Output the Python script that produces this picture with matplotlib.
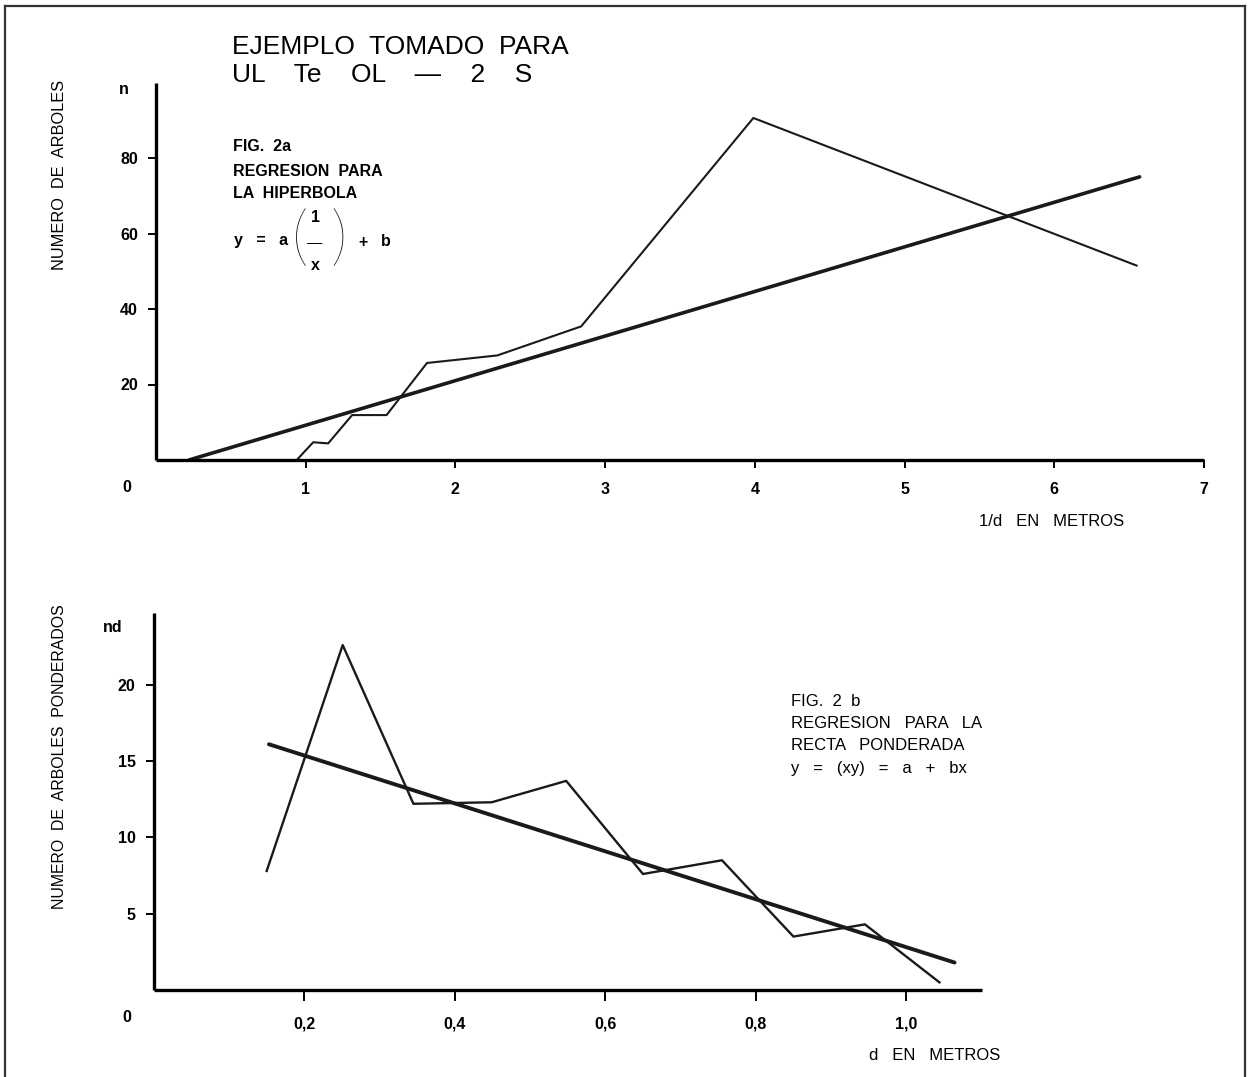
import matplotlib
matplotlib.use("Agg")
import matplotlib.pyplot as plt
from matplotlib.lines import Line2D

plt.rcParams['font.family'] = ['Liberation Sans', 'DejaVu Sans']

# Fig. 2a: number of trees against 1/d
top_x = [0.94, 1.05, 1.15, 1.31, 1.54, 1.81, 2.28, 2.84, 3.99, 6.55]
top_y = [0, 4.7, 4.4, 11.9, 11.9, 25.7, 27.7, 35.4, 90.6, 51.5]
top_fit_x = [0.22, 6.57]
top_fit_y = [0, 75.0]
top_xticks = [1, 2, 3, 4, 5, 6, 7]
top_yticks = [20, 40, 60, 80]

# Fig. 2b: weighted number of trees against d
bot_x = [0.150, 0.251, 0.345, 0.449, 0.548, 0.650, 0.755, 0.850, 0.945, 1.044]
bot_y = [7.8, 22.6, 12.2, 12.3, 13.7, 7.6, 8.5, 3.5, 4.3, 0.5]
bot_fit_x = [0.153, 1.064]
bot_fit_y = [16.1, 1.8]
bot_xticks = [0.2, 0.4, 0.6, 0.8, 1.0]
bot_xlabels = ['0,2', '0,4', '0,6', '0,8', '1,0']
bot_yticks = [5, 10, 15, 20]

W, H = 1252, 1077
fig = plt.figure(figsize=(W / 100, H / 100), dpi=100)


def px(x, y):
    return x / W, 1 - y / H


def label(x, y, s, **kw):
    kw.setdefault('ha', 'left')
    kw.setdefault('va', 'center')
    fig.text(*px(x, y), s, **kw)


def style(ax):
    for side in ('top', 'right'):
        ax.spines[side].set_visible(False)
    for side in ('left', 'bottom'):
        ax.spines[side].set_linewidth(2.4)
        ax.spines[side].set_capstyle('butt')
    ax.tick_params(direction='out', length=6, width=1.4, pad=7,
                   labelsize=11.5)
    for t in ax.get_xticklabels() + ax.get_yticklabels():
        t.set_fontweight('bold')


# ---- top chart ----
ax1 = fig.add_axes([156 / W, 1 - 460 / H, 1048 / W, 377.5 / H])
ax1.plot(top_x, top_y, color='#1a1a1a', lw=1.5, clip_on=False)
ax1.plot(top_fit_x, top_fit_y, color='#1a1a1a', lw=2.6, clip_on=False,
         solid_capstyle='round')
ax1.set_xlim(0, 7)
ax1.set_ylim(0, 100)
ax1.set_xticks(top_xticks)
ax1.set_yticks(top_yticks)
style(ax1)
ax1.tick_params(axis='x', pad=10)

# ---- bottom chart ----
ax2 = fig.add_axes([153.8 / W, 1 - 990 / H, 827.8 / W, 377 / H])
ax2.plot(bot_x, bot_y, color='#1a1a1a', lw=1.7, clip_on=False)
ax2.plot(bot_fit_x, bot_fit_y, color='#1a1a1a', lw=2.8, clip_on=False,
         solid_capstyle='round')
ax2.set_xlim(0, 1.1)
ax2.set_ylim(0, 24.7)
ax2.set_xticks(bot_xticks)
ax2.set_xticklabels(bot_xlabels)
ax2.set_yticks(bot_yticks)
style(ax2)
ax2.tick_params(axis='x', length=8, pad=11)

# ---- texts ----
label(232, 47, 'EJEMPLO  TOMADO  PARA', fontsize=19)
label(232, 75, 'UL    Te    OL    —    2    S', fontsize=19)

label(127, 487, '0', fontsize=11.5, fontweight='bold', ha='center')
label(124, 90, 'n', fontsize=11.5, fontweight='bold', ha='center')
label(60, 175, 'NUMERO  DE  ARBOLES', fontsize=11.8, rotation=90,
      ha='center')
label(1052, 522, '1/d   EN   METROS', fontsize=12, ha='center')

label(233, 147, 'FIG.  2a', fontsize=11.5, fontweight='bold')
label(233, 171, 'REGRESION  PARA', fontsize=11.5, fontweight='bold')
label(233, 194, 'LA  HIPERBOLA', fontsize=11.5, fontweight='bold')
label(234, 241, 'y   =   a', fontsize=11.5, fontweight='bold')
label(300, 240, '(', fontsize=47, ha='center', family=['Lato', 'Liberation Sans'],
      fontweight='light')
label(315, 218, '1', fontsize=11.5, fontweight='bold', ha='center')
label(315, 243, '—', fontsize=11, ha='center')
label(315, 265, 'x', fontsize=11.5, fontweight='bold', ha='center')
label(339, 240, ')', fontsize=47, ha='center', family=['Lato', 'Liberation Sans'],
      fontweight='light')
label(363, 242, '+', fontsize=11.5, fontweight='bold', ha='center')
label(386, 241, 'b', fontsize=11.5, fontweight='bold', ha='center')

label(127, 1018, '0', fontsize=11.5, fontweight='bold', ha='center')
label(113, 628, 'nd', fontsize=11.5, fontweight='bold', ha='center')
label(60, 757, 'NUMERO  DE  ARBOLES  PONDERADOS', fontsize=11.4,
      rotation=90, ha='center')
label(935, 1055, 'd   EN   METROS', fontsize=12, ha='center')

label(791, 701, 'FIG.  2  b', fontsize=12)
label(791, 723, 'REGRESION   PARA   LA', fontsize=12)
label(791, 746, 'RECTA   PONDERADA', fontsize=12)
label(791, 769, 'y   =   (xy)   =   a   +   bx', fontsize=12)

# page frame
for (x0, y0, x1, y1) in [(5, 1077, 5, 6), (5, 6, 1245, 6), (1245, 6, 1245, 1077)]:
    a, b = px(x0, y0)
    c, d = px(x1, y1)
    fig.add_artist(Line2D([a, c], [b, d], color='#333333', lw=1.6))

fig.savefig('out.png', dpi=100, facecolor='white')
